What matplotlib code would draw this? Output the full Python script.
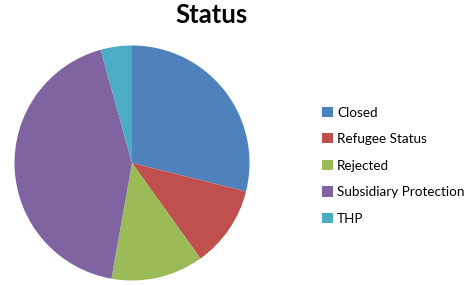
import matplotlib.pyplot as plt

# status shares (percent)
categories = ["Closed", "Refugee Status", "Rejected", "Subsidiary Protection", "THP"]
shares = [28.9, 11.2, 12.7, 42.9, 4.3]
colors = ["#4F81BD", "#C0504D", "#9BBB59", "#8064A2", "#4BACC6"]

W, H = 473, 285
fig = plt.figure(figsize=(W / 100, H / 100), dpi=100)

# pie centre ~ (132, 163) px, radius ~117 px
cx, cy, r = 132, 163, 117.5
ax = fig.add_axes([(cx - r) / W, (H - cy - r) / H, 2 * r / W, 2 * r / H])
wedges, _ = ax.pie(shares, colors=colors, startangle=90, counterclock=False,
                   radius=1, wedgeprops=dict(linewidth=0))
ax.set_xlim(-1, 1)
ax.set_ylim(-1, 1)
ax.set_aspect("equal")
ax.axis("off")

fig.text(212 / W, 1 - 15 / H, "Status", ha="center", va="center",
         fontsize=18.5, fontweight="bold", family="Lato")

leg = fig.legend(wedges, categories, loc="upper left",
                 bbox_to_anchor=(322 / W, 1 - 106.5 / H), frameon=False,
                 prop=dict(family="Lato", size=9.7), handlelength=0.78,
                 handleheight=0.78, handletextpad=0.35, labelspacing=1.08,
                 borderaxespad=0, borderpad=0)

fig.savefig("out.png", dpi=100)
